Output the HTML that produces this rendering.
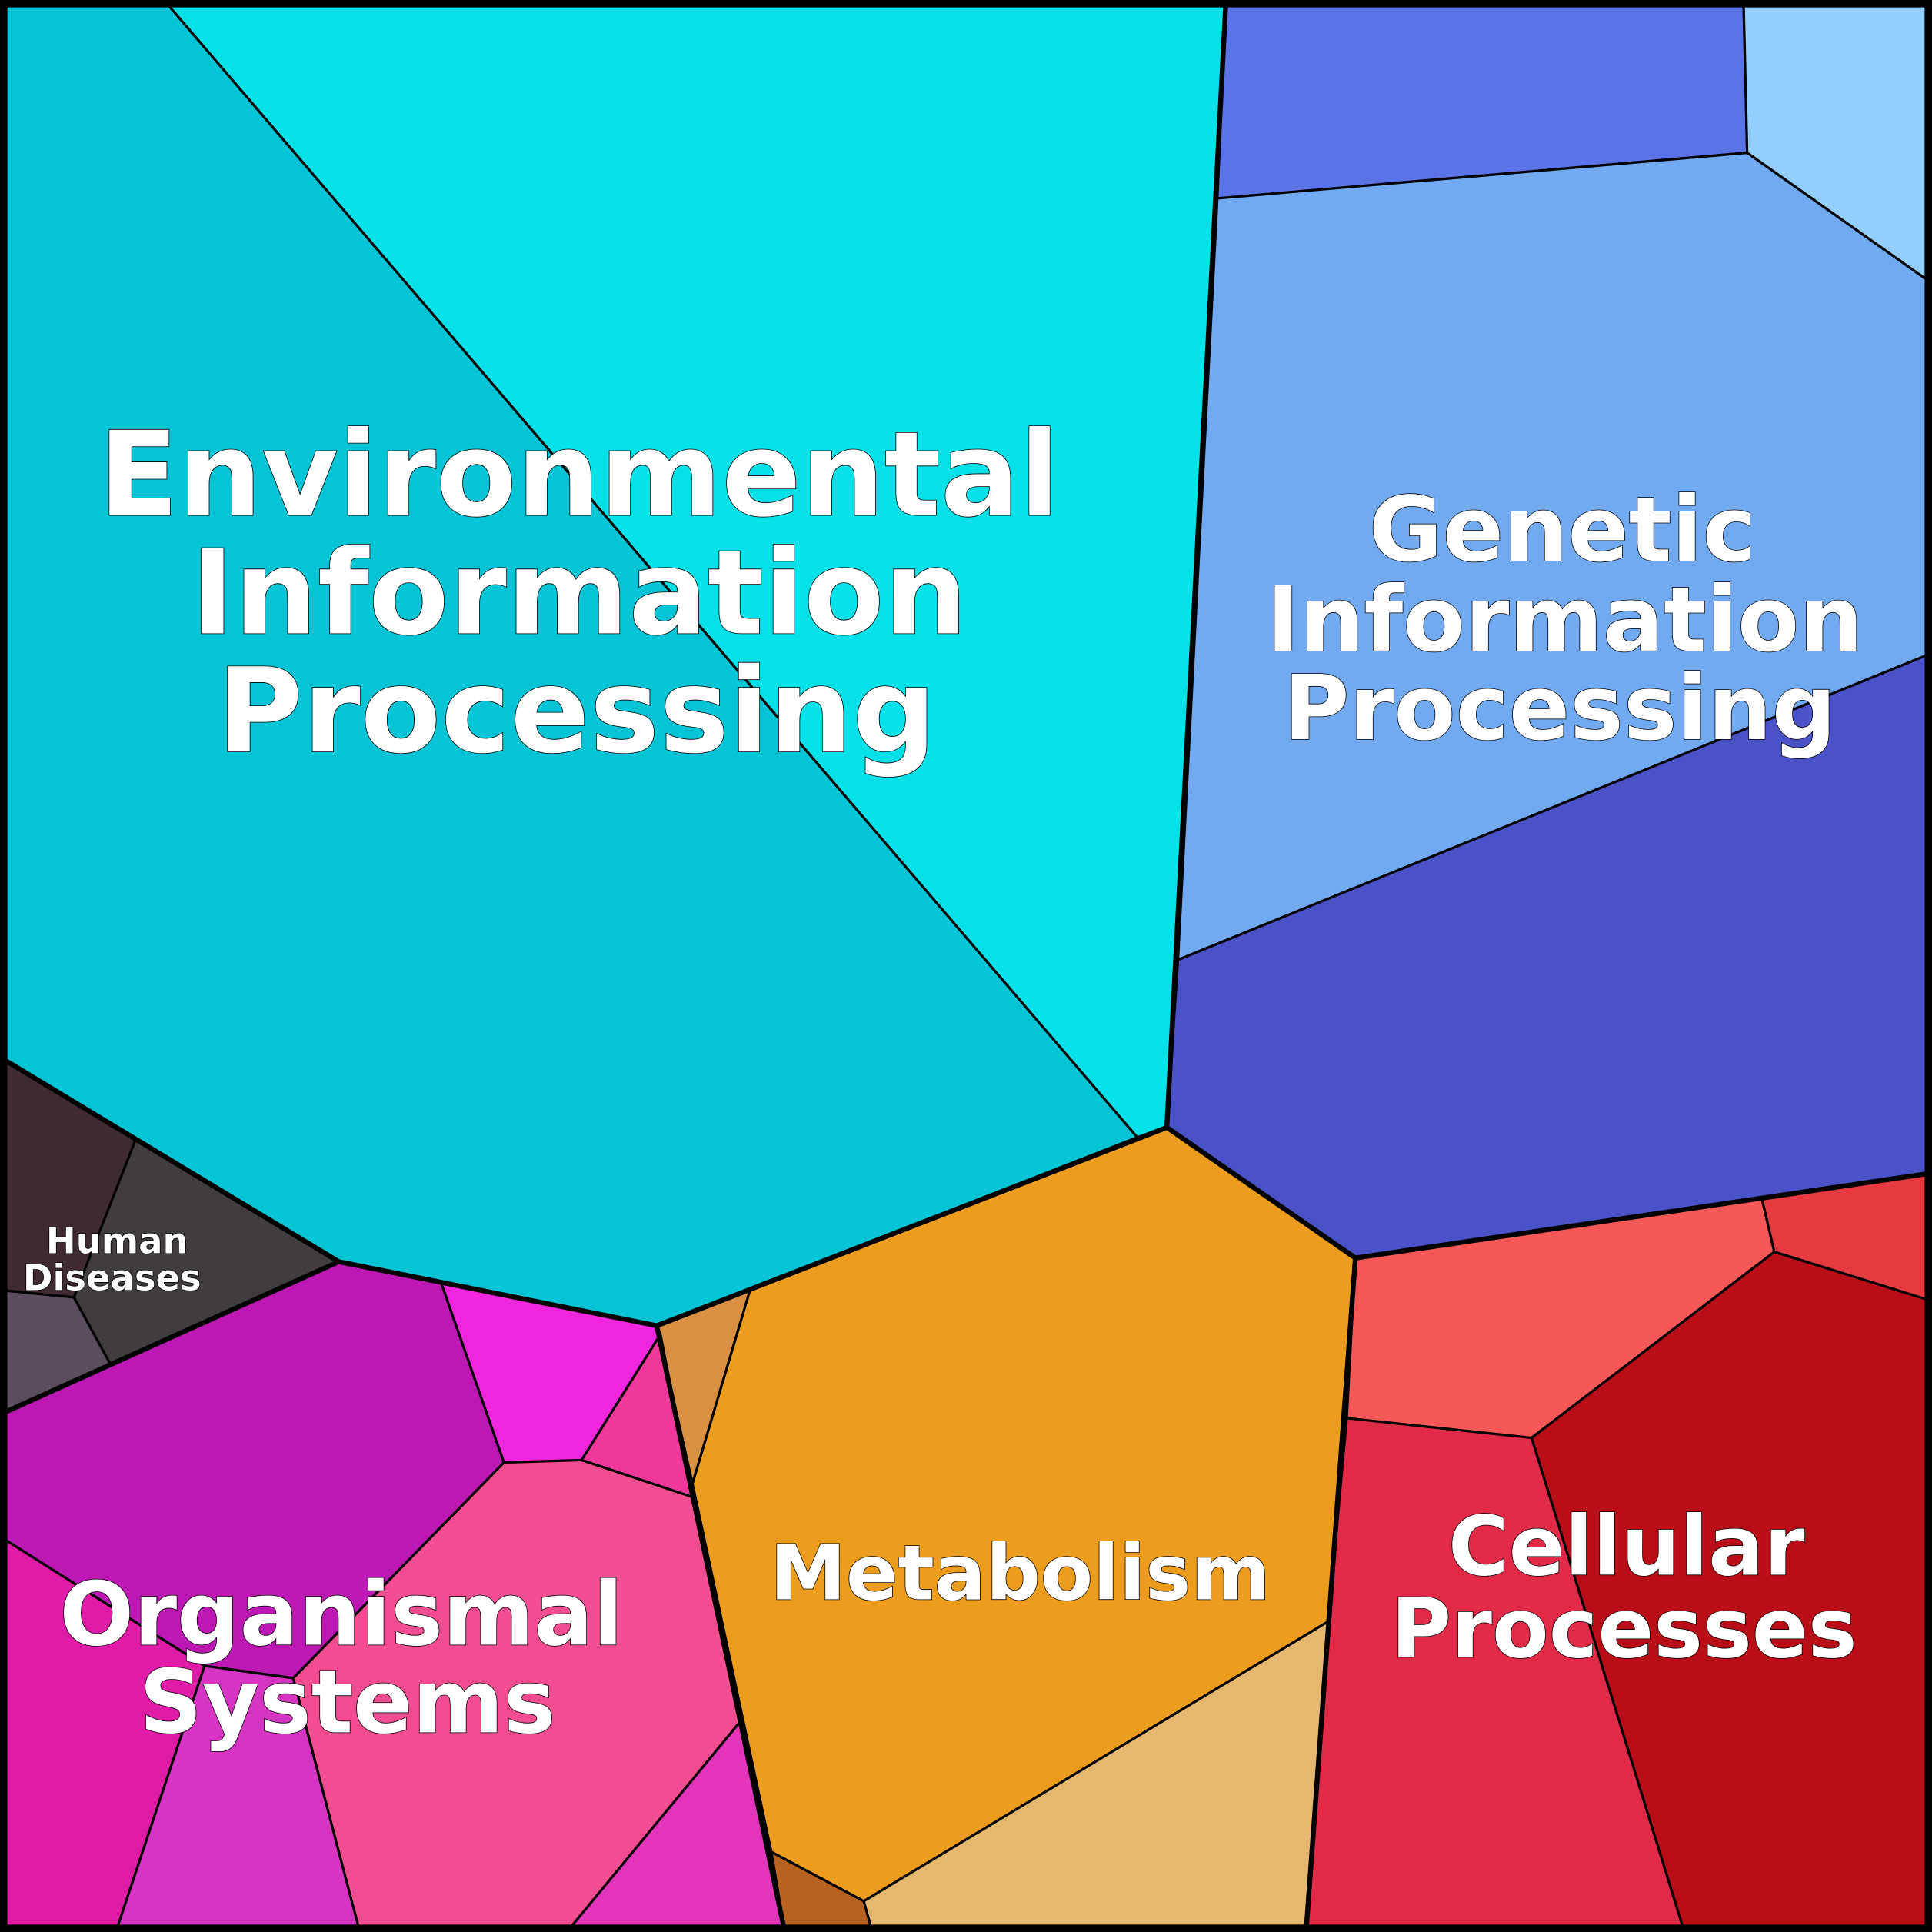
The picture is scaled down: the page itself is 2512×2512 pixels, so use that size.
<!DOCTYPE html>
<html><head><meta charset="utf-8"><style>
html,body{margin:0;padding:0;background:#fff}
svg{display:block}
text{font-family:"DejaVu Sans","Liberation Sans",sans-serif;font-weight:bold;fill:#fff;stroke:#000;stroke-width:1;text-anchor:middle;paint-order:stroke}
</style></head><body>
<svg width="2512" height="2512" viewBox="0 0 1568 1568" xmlns="http://www.w3.org/2000/svg">
<g stroke="#000" stroke-width="2" stroke-linejoin="round">
<polygon fill="#05c4d5" points="0,0 133,0 923,923 533,1076 275,1024 110,925 0,858"/>
<polygon fill="#05e1e8" points="133,0 995,0 988,161 956,779 947,915 923,923"/>
<polygon fill="#5a73e6" points="995,0 1415,0 1418,124 988,161"/>
<polygon fill="#94cefc" points="1415,0 1568,0 1568,230 1418,124"/>
<polygon fill="#72aaf2" points="988,161 1418,124 1568,230 1568,530 956,779"/>
<polygon fill="#4a52c8" points="956,779 1568,530 1568,952 1100,1021 947,915"/>
<polygon fill="#f65858" points="1100,1021 1430,973 1440,1016 1243,1167 1093,1151"/>
<polygon fill="#e73a40" points="1430,973 1568,952 1568,1056 1440,1016"/>
<polygon fill="#b90d17" points="1440,1016 1568,1056 1568,1568 1367,1568 1243,1167"/>
<polygon fill="#e12a48" points="1093,1151 1243,1167 1367,1568 1060,1568 1078,1316"/>
<polygon fill="#ed9d1e" points="947,915 1100,1021 1078,1316 701,1543 626,1503 562,1204 609,1046"/>
<polygon fill="#d99043" points="533,1076 609,1046 562,1204"/>
<polygon fill="#e6b76e" points="1078,1316 1060,1568 708,1568 701,1543"/>
<polygon fill="#b86222" points="626,1503 701,1543 708,1568 637,1568"/>
<polygon fill="#be18b4" points="0,1148 275,1024 358,1041 409,1187 238,1362 166,1352 0,1247"/>
<polygon fill="#ef26dd" points="358,1041 533,1076 536,1083 472,1185 409,1187"/>
<polygon fill="#f0389c" points="536,1083 562,1215 472,1185"/>
<polygon fill="#f24d90" points="409,1187 472,1185 562,1215 601,1397 460,1568 292,1568 238,1362"/>
<polygon fill="#e335bb" points="601,1397 637,1568 460,1568"/>
<polygon fill="#df1ba7" points="0,1247 166,1352 94,1568 0,1568"/>
<polygon fill="#d535c2" points="166,1352 238,1362 292,1568 94,1568"/>
<polygon fill="#402a33" points="0,858 110,925 60,1053 0,1047"/>
<polygon fill="#413d3f" points="110,925 275,1024 90,1108 60,1053"/>
<polygon fill="#5a4e5d" points="0,1047 60,1053 90,1108 0,1148"/>
</g>
<g fill="none" stroke="#000" stroke-width="4" stroke-linejoin="round">
<polyline points="0,858 275,1024 533,1076 947,915 1100,1021 1568,952"/>
<polyline points="995,0 947,915"/>
<polyline points="0,1148 275,1024"/>
<polyline points="533,1076 637,1568"/>
<polyline points="1100,1021 1060,1568"/>
<rect x="3" y="3" width="1562" height="1562" stroke-width="6"/>
</g>
<text font-size="95" x="470" y="418">Environmental</text>
<text font-size="95" x="470" y="514">Information</text>
<text font-size="95" x="468" y="610">Processing</text>
<text font-size="73" x="1268" y="455">Genetic</text>
<text font-size="73" x="1270" y="528">Information</text>
<text font-size="73" x="1266" y="600">Processing</text>
<text font-size="67" x="1320" y="1278">Cellular</text>
<text font-size="67" x="1318" y="1345">Processes</text>
<text font-size="62" x="828" y="1298">Metabolism</text>
<text font-size="71" x="277" y="1335">Organismal</text>
<text font-size="71" x="282" y="1406">Systems</text>
<text font-size="29" x="95" y="1017" stroke-width="0.6">Human</text>
<text font-size="29" x="91" y="1047" stroke-width="0.6">Diseases</text>
</svg>
</body></html>
